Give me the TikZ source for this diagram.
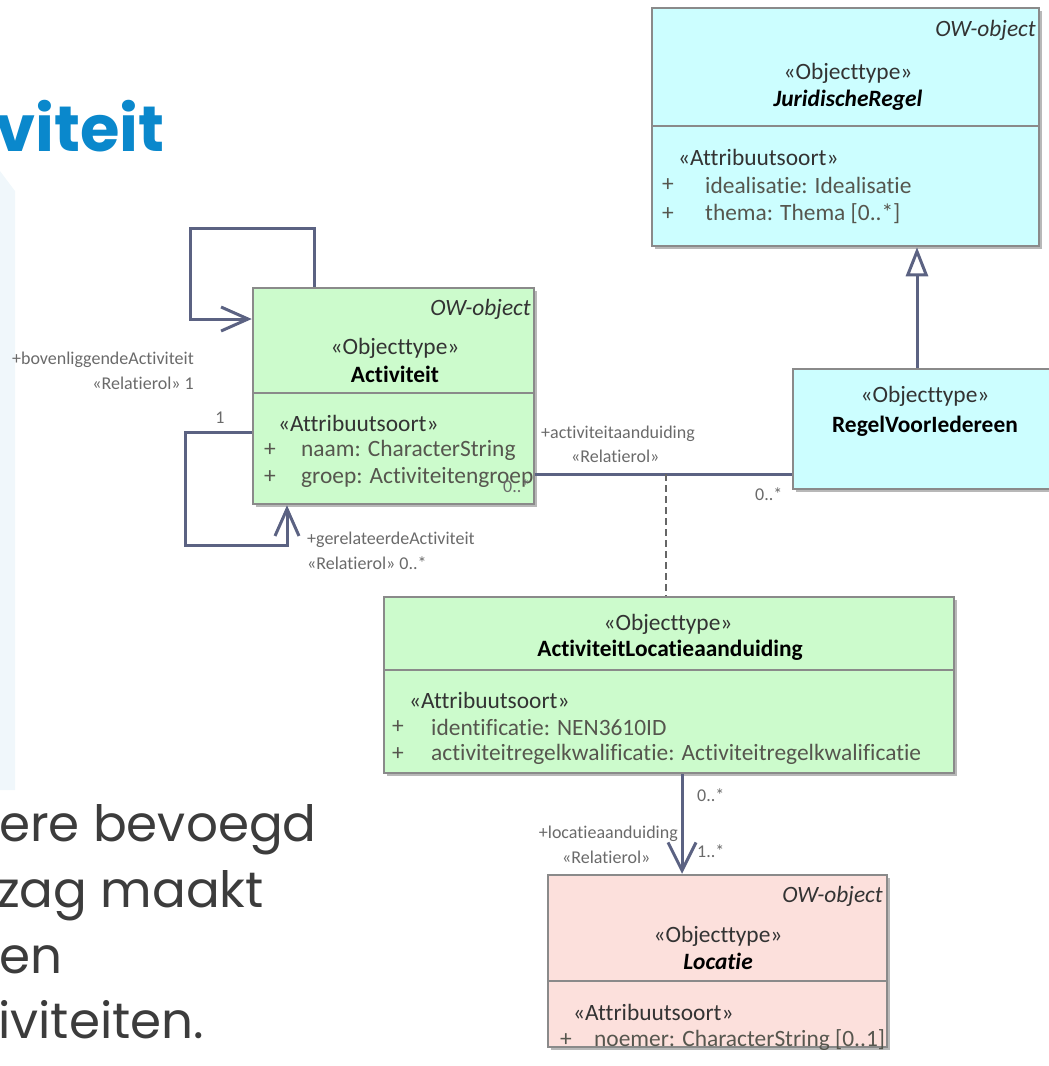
\documentclass[tikz,border=0pt]{standalone}
\usepackage{fontspec}
\setmainfont{Carlito}[Ligatures=NoCommon]
\newfontfamily\slidefont{Poppins}
\usetikzlibrary{arrows.meta,shadows}

\definecolor{umlgreen}{HTML}{CCFBCC}
\definecolor{umlcyan}{HTML}{CCFEFF}
\definecolor{umlpink}{HTML}{FCE0DC}
\definecolor{umlborder}{HTML}{8A8A8A}
\definecolor{umlline}{HTML}{5B6282}
\definecolor{labelgray}{HTML}{6A6A6A}
\definecolor{attrgray}{HTML}{56564E}
\definecolor{slideblue}{HTML}{0A88CC}
\definecolor{slidetext}{HTML}{3C3C3C}
\definecolor{panelblue}{HTML}{F0F7FB}

\newcommand\boxfont{\fontsize{23.4}{28}\selectfont}
\newcommand\rolefont{\fontsize{18}{21}\selectfont}

\tikzset{
  umlbox/.style={draw=umlborder, line width=2.5pt, inner sep=0pt,
    drop shadow={shadow xshift=3pt, shadow yshift=-3pt, fill=black!28, opacity=1}},
  stereo/.style={inner sep=0pt, font=\boxfont, text=black!80},
  attr/.style={inner sep=0pt, font=\boxfont, text=attrgray, anchor=west},
  owtag/.style={inner sep=0pt, font=\boxfont\itshape, text=black!80, anchor=east},
  role/.style={inner sep=0pt, font=\rolefont, text=labelgray},
  assoc/.style={draw=umlline, line width=3pt},
  openhead/.style={-{Straight Barb[length=27pt, width=24pt]}}
}

\begin{document}
\begin{tikzpicture}[x=1pt, y=-1pt]
\useasboundingbox (0,0) rectangle (1049,1066);
\clip (0,0) rectangle (1049,1066);

% slide background
\fill[panelblue] (0,171) -- (15,191) -- (15,790) -- (0,790) -- cycle;
\node[anchor=base east, inner sep=0pt, font=\slidefont\bfseries\fontsize{64}{70}\selectfont, text=slideblue] (title) at (165,151) {viteit};
\node[anchor=base west, inner sep=0pt, font=\slidefont\fontsize{50}{60}\selectfont, text=slidetext] (line1) at (-1,841) {ere bevoegd};
\node[anchor=base west, inner sep=0pt, font=\slidefont\fontsize{50}{60}\selectfont, text=slidetext] (line2) at (-3,907) {zag maakt};
\node[anchor=base west, inner sep=0pt, font=\slidefont\fontsize{50}{60}\selectfont, text=slidetext] (line3) at (-1,973) {en};
\node[anchor=base west, inner sep=0pt, font=\slidefont\fontsize{50}{60}\selectfont, text=slidetext] (line4) at (-2,1038) {iviteiten.};

% JuridischeRegel
\node[umlbox, fill=umlcyan, minimum width=387, minimum height=118] (jurHead) at (845.5,67) {};
\node[umlbox, fill=umlcyan, minimum width=387, minimum height=120] (jurAttr) at (845.5,186) {};
\node[owtag] (jurTag) at (1036,30) {OW-object};
\node[stereo] (jurSt) at (848,73) {«Objecttype»};
\node[stereo, font=\boxfont\bfseries\itshape, text=black] (jurName) at (848,100) {JuridischeRegel};
\node[attr, text=black!80] (jurAs) at (678,157) {«Attribuutsoort»};
\node[attr] (jurP1) at (662,185) {+};
\node[attr] (jurA1) at (705,185) {idealisatie: Idealisatie};
\node[attr] (jurP2) at (662,214) {+};
\node[attr] (jurA2) at (705,214) {thema: Thema [0..*]};

% RegelVoorIedereen
\node[umlbox, fill=umlcyan, minimum width=277, minimum height=120] (regel) at (931.5,429) {};
\node[stereo] (regSt) at (925,396) {«Objecttype»};
\node[stereo, font=\boxfont\bfseries, text=black] (regName) at (925,426) {RegelVoorIedereen};

% Activiteit
\node[umlbox, fill=umlgreen, minimum width=281, minimum height=105] (actHead) at (393.5,340.5) {};
\node[umlbox, fill=umlgreen, minimum width=281, minimum height=111] (actAttr) at (393.5,448.5) {};
\node[owtag] (actTag) at (531,309) {OW-object};
\node[stereo] (actSt) at (395,348) {«Objecttype»};
\node[stereo, font=\boxfont\bfseries, text=black] (actName) at (395,374) {Activiteit};
\node[attr, text=black!80] (actAs) at (278,423) {«Attribuutsoort»};
\node[attr] (actP1) at (264,450) {+};
\node[attr] (actA1) at (301,450) {naam: CharacterString};
\node[attr] (actP2) at (264,477) {+};
\begin{scope}
\clip (actAttr.south west) rectangle ([xshift=-3pt]actAttr.north east);
\node[attr] (actA2) at (301,477) {groep: Activiteitengroep};
\end{scope}

% ActiviteitLocatieaanduiding
\node[umlbox, fill=umlgreen, minimum width=570, minimum height=73] (alaHead) at (669,633.5) {};
\node[umlbox, fill=umlgreen, minimum width=570, minimum height=103] (alaAttr) at (669,721.5) {};
\node[stereo] (alaSt) at (668,624) {«Objecttype»};
\node[stereo, font=\boxfont\bfseries, text=black] (alaName) at (670,650) {ActiviteitLocatieaanduiding};
\node[attr, text=black!80] (alaAs) at (409,700) {«Attribuutsoort»};
\node[attr] (alaP1) at (392,727) {+};
\node[attr] (alaA1) at (431,727) {identificatie: NEN3610ID};
\node[attr] (alaP2) at (392,754) {+};
\node[attr] (alaA2) at (431,754) {activiteitregelkwalificatie: Activiteitregelkwalificatie};

% Locatie
\node[umlbox, fill=umlpink, minimum width=339, minimum height=106] (locHead) at (717.5,928) {};
\node[umlbox, fill=umlpink, minimum width=339, minimum height=66] (locAttr) at (717.5,1014) {};
\node[owtag] (locTag) at (883,896) {OW-object};
\node[stereo] (locSt) at (718,936) {«Objecttype»};
\node[stereo, font=\boxfont\bfseries\itshape, text=black] (locName) at (718,961) {Locatie};
\node[attr, text=black!80] (locAs) at (573,1012) {«Attribuutsoort»};
\node[attr] (locP1) at (560,1040) {+};
\node[attr] (locA1) at (594,1040) {noemer: CharacterString [0..1]};

% connectors
\coordinate (loopA) at (190,228);
\coordinate (loopB) at (185,545);
\coordinate (assocMid) at (666,474);

\draw[assoc, -{Triangle[length=29pt, width=22pt, fill=white]}]
  ([xshift=-14.5pt]regel.north) -- ([xshift=-14.5pt]regel.north |- jurAttr.south);
\draw[assoc, openhead]
  ([xshift=-79.5pt]actHead.north) |- (loopA) |- ([yshift=21.5pt]actHead.west);
\draw[assoc, openhead]
  ([yshift=16.5pt]actAttr.west) -| (loopB) -| ([xshift=-106.5pt]actAttr.south);
\draw[assoc]
  ([yshift=-25.5pt]actAttr.east) -- ([yshift=-25.5pt]actAttr.east -| regel.west);
\draw[draw=black!60, line width=1.6pt, dash pattern=on 7pt off 4pt]
  (assocMid) -- (assocMid |- alaHead.north);
\draw[assoc, -{Straight Barb[length=28pt, width=28pt]}]
  ([xshift=13pt]alaAttr.south) -- ([xshift=13pt]alaAttr.south |- locHead.north);

% role labels
\node[role, anchor=east] (bovRole) at (194,360) {+bovenliggendeActiviteit};
\node[role, anchor=east] (bovRel) at (194,383) {«Relatierol» 1};
\node[role] (bovMult) at (220,418) {1};
\node[role, anchor=west] (gerRole) at (307,540) {+gerelateerdeActiviteit};
\node[role, anchor=west] (gerRel) at (307,563) {«Relatierol» 0..*};
\node[role, anchor=west] (actMult) at (503,486) {0..*};
\node[role, anchor=west] (aanRole) at (541,434) {+activiteitaanduiding};
\node[role, anchor=west] (aanRel) at (571,456) {«Relatierol»};
\node[role, anchor=west] (regMult) at (755,494) {0..*};
\node[role, anchor=west] (alaMult) at (697,795) {0..*};
\node[role, anchor=east] (locRole) at (678,834) {+locatieaanduiding};
\node[role, anchor=west] (locRel) at (562,857) {«Relatierol»};
\node[role, anchor=west] (locMult) at (697,851) {1..*};
\end{tikzpicture}
\end{document}
